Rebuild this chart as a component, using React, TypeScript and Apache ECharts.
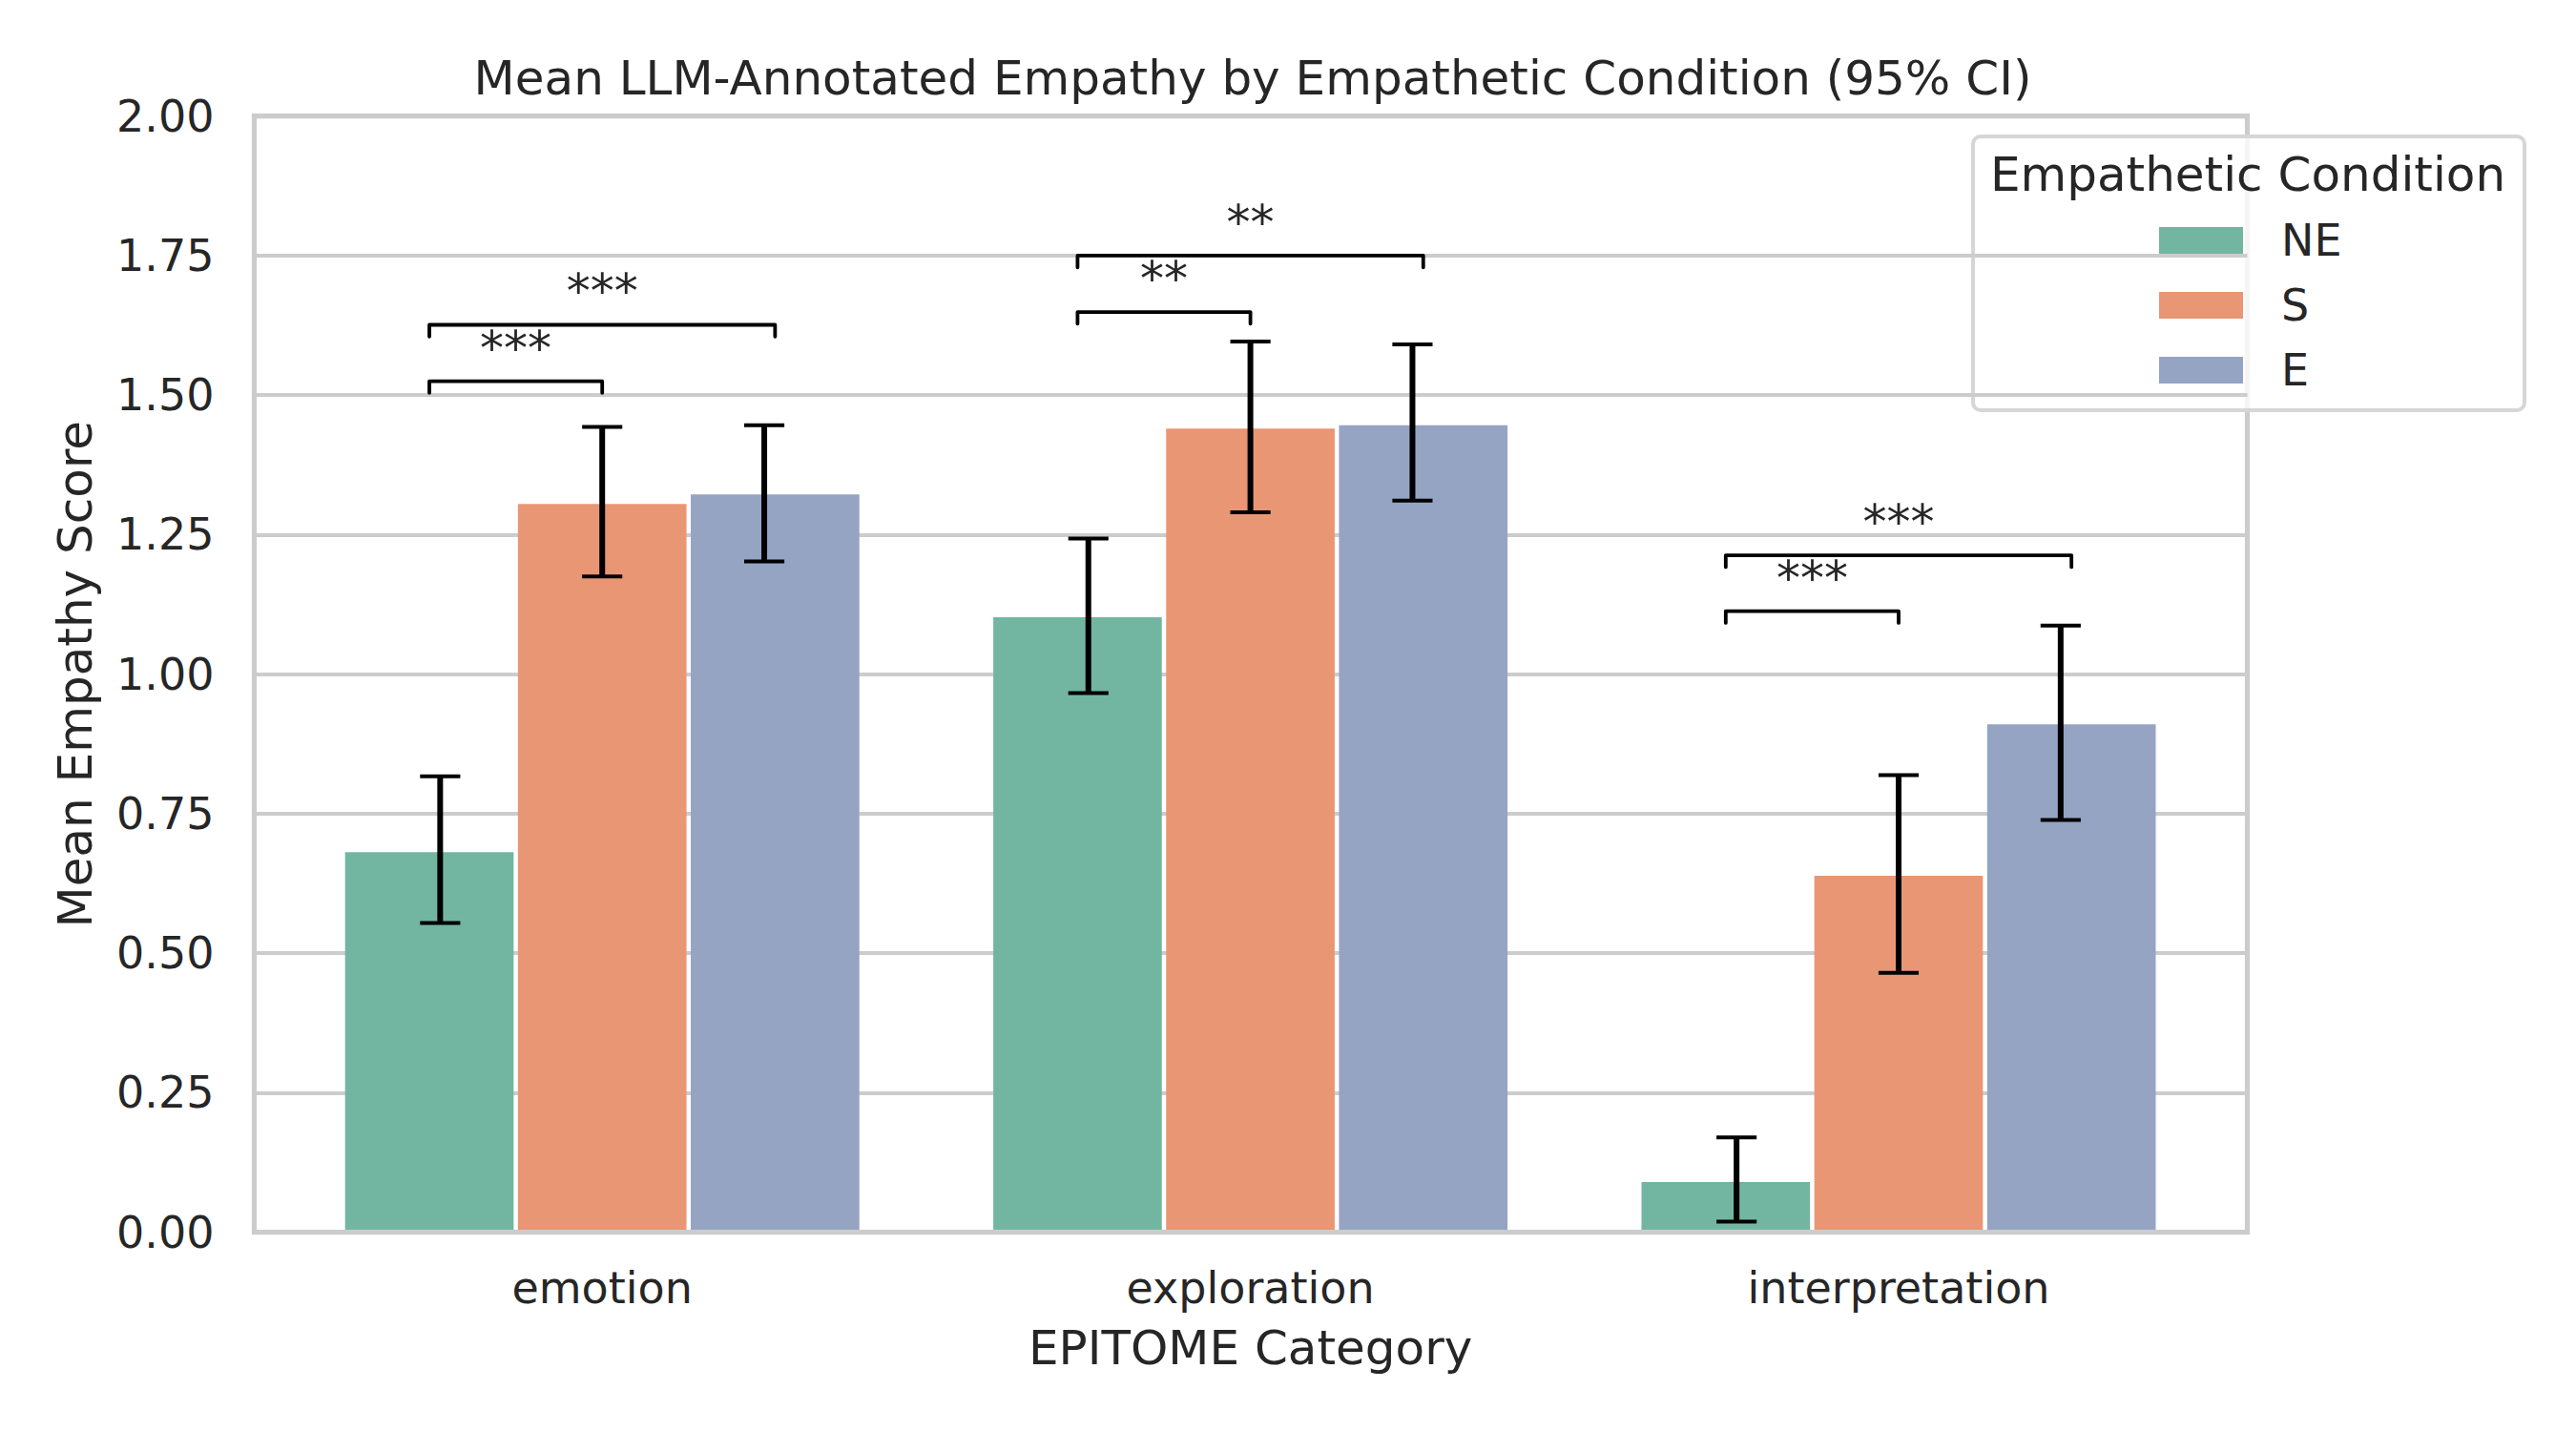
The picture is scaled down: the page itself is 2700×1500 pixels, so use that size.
import React, { useEffect, useRef } from 'react';
import * as echarts from 'echarts';

// EPITOME categories on the x axis
const categories = ['emotion', 'exploration', 'interpretation'];

// Empathetic conditions (hue) and their colours
const conditions = ['NE', 'S', 'E'];
const conditionColors = ['#72b6a1', '#e99675', '#95a4c3'];

// Mean LLM-annotated empathy per category, one array per condition
const meanNE = [0.681, 1.102, 0.090];
const meanS = [1.305, 1.440, 0.639];
const meanE = [1.322, 1.446, 0.910];

// 95% confidence interval bounds
const ciLowNE = [0.554, 0.966, 0.019];
const ciHighNE = [0.817, 1.243, 0.170];
const ciLowS = [1.175, 1.290, 0.465];
const ciHighS = [1.443, 1.596, 0.819];
const ciLowE = [1.202, 1.311, 0.739];
const ciHighE = [1.446, 1.591, 1.087];

// Significance brackets: category, compared conditions, bracket height, stars
const bracketCategory = [0, 0, 1, 1, 2, 2];
const bracketFrom = [0, 0, 0, 0, 0, 0];
const bracketTo = [1, 2, 1, 2, 1, 2];
const bracketTop = [1.525, 1.626, 1.649, 1.75, 1.113, 1.213];
const bracketLabel = ['***', '***', '**', '**', '***', '***'];
const bracketDrop = 0.021;

// Y axis ticks
const yMin = 0;
const yMax = 2;
const yStep = 0.25;

const FONT = "'DejaVu Sans', 'Liberation Sans', sans-serif";
const TEXT = '#262626';
const GRID = '#cccccc';

const means = [meanNE, meanS, meanE];
const lows = [ciLowNE, ciLowS, ciLowE];
const highs = [ciHighNE, ciHighS, ciHighE];

export default function App() {
  const ref = useRef<HTMLDivElement>(null);

  useEffect(() => {
    if (!ref.current) return;
    const chart = echarts.init(ref.current, null, { renderer: 'svg' });

    const nGroups = conditions.length;
    const groupFrac = 0.8; // dodge width of the three bars within a category
    const errOffset = 0.25; // error bars sit at +-0.25 of the category band
    const barSlot = groupFrac / nGroups; // 0.2667 of the band per bar
    const gapPx = 4.5; // white seam between neighbouring bars
    const bandPx = 679.4;
    const barPx = barSlot * bandPx - gapPx;

    const barSeries = conditions.map((name, si) => ({
      type: 'bar',
      name,
      xAxisIndex: 1,
      yAxisIndex: 1,
      data: means[si],
      barWidth: barPx,
      barGap: `${(gapPx / barPx) * 100}%`,
      itemStyle: { color: conditionColors[si] },
      z: 2,
    }));

    const errorSeries = conditions.map((name, si) => ({
      type: 'custom',
      name: `${name} CI`,
      xAxisIndex: 1,
      yAxisIndex: 1,
      z: 4,
      encode: { x: 0, y: [1, 2] },
      data: categories.map((_, ci) => [ci, lows[si][ci], highs[si][ci]]),
      renderItem: (params: any, api: any) => {
        const cat = api.value(0);
        const lo = api.coord([cat, api.value(1)]);
        const hi = api.coord([cat, api.value(2)]);
        const band = api.size([1, 0])[0];
        const x = lo[0] + (si - (nGroups - 1) / 2) * band * errOffset;
        const half = band * 0.031;
        const stem = { stroke: '#000000', lineWidth: 6 };
        const cap = { stroke: '#000000', lineWidth: 4 };
        return {
          type: 'group',
          children: [
            { type: 'line', shape: { x1: x, y1: lo[1], x2: x, y2: hi[1] }, style: stem },
            { type: 'line', shape: { x1: x - half, y1: hi[1], x2: x + half, y2: hi[1] }, style: cap },
            { type: 'line', shape: { x1: x - half, y1: lo[1], x2: x + half, y2: lo[1] }, style: cap },
          ],
        };
      },
    }));

    const bracketSeries = {
      type: 'custom',
      name: 'significance',
      xAxisIndex: 1,
      yAxisIndex: 1,
      z: 4,
      encode: { x: 0, y: [1, 2] },
      data: bracketCategory.map((c, i) => [c, bracketTop[i], bracketTop[i] - bracketDrop]),
      renderItem: (params: any, api: any) => {
        const i = params.dataIndex;
        const cat = api.value(0);
        const top = api.coord([cat, api.value(1)]);
        const bottom = api.coord([cat, api.value(2)]);
        const band = api.size([1, 0])[0];
        const step = band * barSlot;
        const mid = (nGroups - 1) / 2;
        const x1 = top[0] + (bracketFrom[i] - mid) * step;
        const x2 = top[0] + (bracketTo[i] - mid) * step;
        return {
          type: 'group',
          children: [
            {
              type: 'polyline',
              shape: { points: [[x1, bottom[1]], [x1, top[1]], [x2, top[1]], [x2, bottom[1]]] },
              style: { stroke: '#000000', lineWidth: 3.8, fill: null, lineJoin: 'round', lineCap: 'round' },
            },
            {
              type: 'text',
              x: (x1 + x2) / 2,
              y: top[1] - 35,
              style: {
                text: bracketLabel[i],
                fontSize: 50,
                fontFamily: FONT,
                fill: TEXT,
                align: 'center',
                verticalAlign: 'middle',
              },
            },
          ],
        };
      },
    };

    // Legend box with its title
    const legendLeft = 2068;
    const legendTop = 143;
    const legendChildren: any[] = [
      {
        type: 'rect',
        shape: { x: legendLeft, y: legendTop, width: 578, height: 287, r: 8 },
        style: { fill: 'rgba(255,255,255,0.8)', stroke: '#d6d6d6', lineWidth: 4 },
      },
      {
        type: 'text',
        x: 2356,
        y: 183,
        style: { text: 'Empathetic Condition', fontSize: 50, fontFamily: FONT, fill: TEXT, align: 'center', verticalAlign: 'middle' },
      },
    ];
    conditions.forEach((name, si) => {
      const cy = 252 + si * 68;
      legendChildren.push({
        type: 'rect',
        shape: { x: 2263, y: cy - 14, width: 88, height: 28 },
        style: { fill: conditionColors[si] },
      });
      legendChildren.push({
        type: 'text',
        x: 2391,
        y: cy,
        style: { text: name, fontSize: 46, fontFamily: FONT, fill: TEXT, align: 'left', verticalAlign: 'middle' },
      });
    });

    chart.setOption({
      animation: false,
      backgroundColor: '#ffffff',
      textStyle: { fontFamily: FONT, color: TEXT },
      title: {
        text: 'Mean LLM-Annotated Empathy by Empathetic Condition (95% CI)',
        left: 1308,
        top: 52,
        textAlign: 'center',
        textStyle: { fontFamily: FONT, fontSize: 50, fontWeight: 'normal', color: TEXT },
      },
      grid: [
        { left: 266.5, right: 344.5, top: 121.7, bottom: 208.3, show: true, borderColor: GRID, borderWidth: 5.2, backgroundColor: 'transparent' },
        { left: 291.5, right: 370.3, top: 121.7, bottom: 208.3 },
      ],
      xAxis: [
        {
          gridIndex: 0,
          type: 'value',
          min: 0,
          max: 1,
          z: 3,
          axisLine: { show: true, onZero: false, lineStyle: { color: GRID, width: 5.2 } },
          axisTick: { show: false },
          axisLabel: { show: false },
          splitLine: { show: false },
        },
        {
          gridIndex: 1,
          type: 'category',
          data: categories,
          axisLine: { show: false },
          axisTick: { show: false },
          splitLine: { show: false },
          axisLabel: { fontSize: 46, color: TEXT, fontFamily: FONT, margin: 35 },
          name: 'EPITOME Category',
          nameLocation: 'middle',
          nameGap: 96,
          nameTextStyle: { fontSize: 50, color: TEXT, fontFamily: FONT },
        },
      ],
      yAxis: [
        {
          gridIndex: 0,
          type: 'value',
          min: yMin,
          max: yMax,
          interval: yStep,
          axisLine: { show: false },
          axisTick: { show: false },
          axisLabel: {
            fontSize: 46,
            color: TEXT,
            fontFamily: FONT,
            margin: 42,
            formatter: (v: number) => v.toFixed(2),
          },
          splitLine: { show: true, lineStyle: { color: GRID, width: 4.2 } },
          name: 'Mean Empathy Score',
          nameLocation: 'middle',
          nameGap: 163,
          nameTextStyle: { fontSize: 50, color: TEXT, fontFamily: FONT },
        },
        {
          gridIndex: 1,
          type: 'value',
          min: yMin,
          max: yMax,
          interval: yStep,
          show: false,
          splitLine: { show: false },
        },
      ],
      series: [...barSeries, ...errorSeries, bracketSeries],
      graphic: [{ type: 'group', z: 100, children: legendChildren }],
    });

    return () => chart.dispose();
  }, []);

  return <div ref={ref} style={{ position: 'absolute', left: 0, top: 0, width: 2700, height: 1500 }} />;
}
